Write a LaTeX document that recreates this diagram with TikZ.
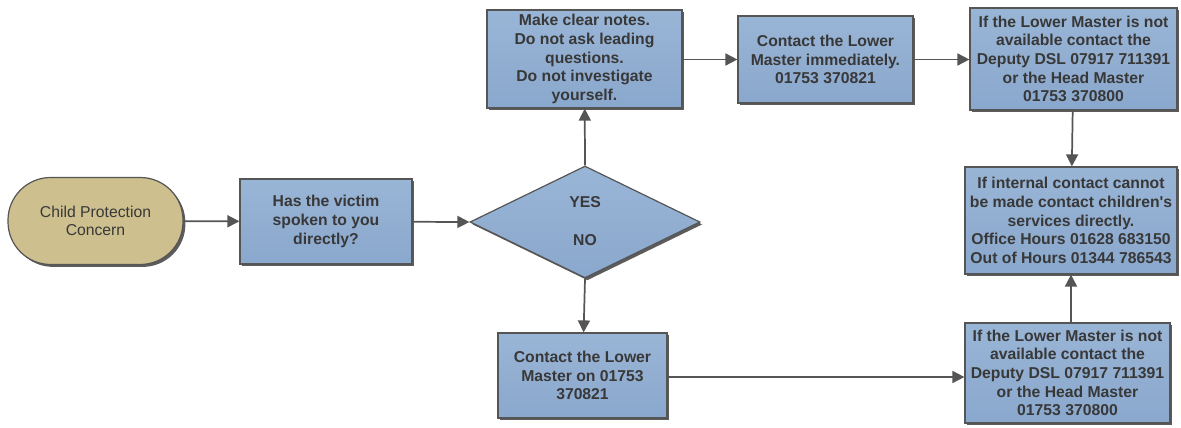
\documentclass[tikz,border=0pt]{standalone}
\usepackage{fontspec}
\newfontfamily\nf{Liberation Sans}
\usetikzlibrary{shapes.geometric,shadows,arrows.meta}
\definecolor{boxblue}{HTML}{8AA8CD}
\definecolor{boxtop}{HTML}{99B5D6}
\definecolor{tan}{HTML}{CDBF8E}
\definecolor{txt}{HTML}{383838}
\definecolor{edge}{HTML}{555555}
\tikzset{
  shd/.style={drop shadow={shadow xshift=1.8pt,shadow yshift=-1.8pt,opacity=0.8,fill=black!80}},
  box/.style={draw=edge,line width=0.9pt,top color=boxtop,bottom color=boxblue,shd,
    align=center,font=\nf\fontsize{11.8}{14}\selectfont\bfseries,text=txt,inner sep=0pt,anchor=center},
  term/.style={draw=edge,line width=0.9pt,fill=tan,shd,rounded corners=32pt,
    align=center,font=\nf\fontsize{11.8}{14}\selectfont,text=txt,inner sep=0pt},
  dia/.style={draw=edge,line width=0.9pt,top color=boxtop,bottom color=boxblue,shd,diamond,aspect=2.05,inner sep=0pt},
  lbl/.style={font=\nf\fontsize{11.8}{14}\selectfont\bfseries,text=txt},
  conn/.style={draw=edge,line width=1.3pt,-{Triangle[length=9pt,width=9pt]}},
}
\begin{document}
\begin{tikzpicture}[x=0.75pt,y=-0.75pt]
\useasboundingbox (0,0) rectangle (1181,428);
\node[term,minimum width=131.25pt,minimum height=65.25pt] (start) at (95.5,221) {Child Protection\\Concern};
\node[box,minimum width=129pt,minimum height=63.75pt] (victim) at (326,221.5) {Has the victim\\spoken to you\\directly?};
\node[dia,minimum width=172.5pt,minimum height=84pt] (dec) at (585,222) {};
\node[lbl] (yes) at (585,202) {YES};
\node[lbl] (no) at (585,240) {NO};
\node[box,minimum width=146.25pt,minimum height=73.5pt] (notes) at (584.5,59) {Make clear notes.\\Do not ask leading\\questions.\\Do not investigate\\yourself.};
\node[box,minimum width=131.25pt,minimum height=65.25pt] (imm) at (825.5,59.5) {Contact the Lower\\Master immediately.\\01753 370821};
\node[box,minimum width=155.25pt,minimum height=76.5pt] (dsl1) at (1073.5,59) {If the Lower Master is not\\available contact the\\Deputy DSL 07917 711391\\or the Head Master\\01753 370800};
\node[box,minimum width=159pt,minimum height=80.25pt] (cs) at (1071,220.5) {If internal contact cannot\\be made contact children's\\services directly.\\Office Hours 01628 683150\\Out of Hours 01344 786543};
\node[box,minimum width=126.75pt,minimum height=63.75pt] (lm) at (582.5,375.5) {Contact the Lower\\Master on 01753\\370821};
\node[box,minimum width=153.75pt,minimum height=75pt] (dsl2) at (1067.5,373) {If the Lower Master is not\\available contact the\\Deputy DSL 07917 711391\\or the Head Master\\01753 370800};
\draw[conn] (start) -- (victim);
\draw[conn] (victim) -- (dec.west);
\draw[conn] (dec.north) -- (notes);
\draw[conn] (dec.south) -- (lm);
\draw[conn] (notes.east |- imm.west) -- (imm.west);
\draw[conn] (imm) -- (dsl1.west |- imm.east);
\draw[conn] (dsl1) -- (cs);
\draw[conn] (lm.east |- 0,377) -- (dsl2.west |- 0,377);
\draw[conn] (dsl2.north -| 1071,0) -- (cs.south -| 1071,0);
\end{tikzpicture}
\end{document}
